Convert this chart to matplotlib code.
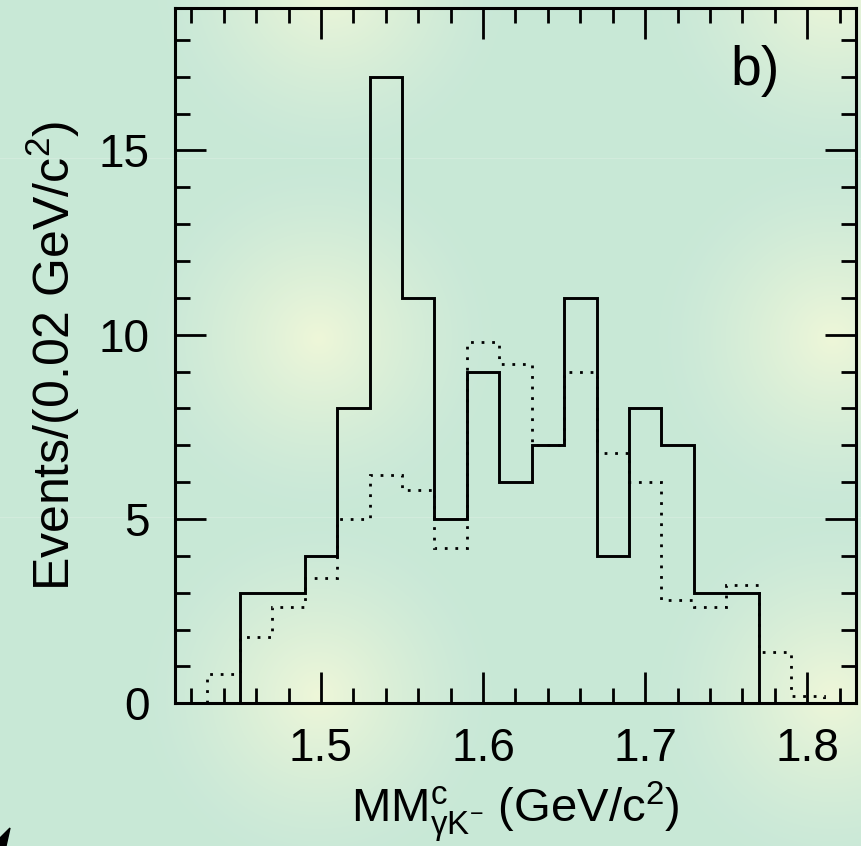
# Import Libraries
import numpy as np
import matplotlib
matplotlib.use('Agg')
import matplotlib.pyplot as plt
from matplotlib.ticker import MultipleLocator
from matplotlib.patches import Polygon

# Data: histogram bins of 0.02 GeV/c^2
bin_width = 0.02
solid_start = 1.45
solid_counts = [3, 3, 4, 8, 17, 11, 5, 9, 6, 7, 11, 4, 8, 7, 3, 3]
dotted_start = 1.43
dotted_counts = [0.8, 1.8, 2.6, 3.4, 5.0, 6.2, 5.8, 4.2, 9.8, 9.2,
                 7.0, 9.0, 6.8, 6.0, 2.8, 2.6, 3.2, 1.4, 0.2]

x_ticks = [1.5, 1.6, 1.7, 1.8]
y_ticks = [0, 5, 10, 15]

plt.rcParams['font.family'] = ['Liberation Sans', 'DejaVu Sans']
plt.rcParams['mathtext.fontset'] = 'custom'
plt.rcParams['mathtext.rm'] = 'Liberation Sans'
plt.rcParams['mathtext.it'] = 'Liberation Sans'
plt.rcParams['mathtext.bf'] = 'Liberation Sans:bold'

W, H = 861, 846
fig = plt.figure(figsize=(W / 100, H / 100), dpi=100)

# Background: mint green with soft yellow glows
yy, xx = np.mgrid[0:H, 0:W]
base = np.array([0.788, 0.910, 0.843])
glow = np.array([0.935, 0.968, 0.850])
weight = np.zeros((H, W))
for cx, cy in [(318, 338), (832, 338), (318, 695), (832, 695), (330, -15), (832, -15)]:
    r = np.hypot(xx - cx, yy - cy)
    weight = np.maximum(weight, np.clip(1 - r / 175, 0, 1) ** 1.4)
img = base + weight[..., None] * (glow - base)
for ly in [158, 517]:
    img[ly] = img[ly] * 0.5 + 0.5 * np.array([0.86, 0.94, 0.89])
bg = fig.add_axes([0, 0, 1, 1], zorder=-1)
bg.imshow(img, extent=[0, W, H, 0], aspect='auto', interpolation='bilinear')
bg.set_xlim(0, W)
bg.set_ylim(H, 0)
bg.axis('off')
bg.add_patch(Polygon([[0, 846], [0, 838], [10, 828], [6, 846]], closed=True, color='black'))

# Main axes
ax = fig.add_axes([175 / W, 1 - 703.3 / H, (856 - 175) / W, (703.3 - 8.5) / H])
ax.set_facecolor('none')

solid_edges = solid_start + bin_width * np.arange(len(solid_counts) + 1)
dotted_edges = dotted_start + bin_width * np.arange(len(dotted_counts) + 1)
ax.stairs(solid_counts, solid_edges, color='black', linewidth=2.1)
ax.stairs(dotted_counts, dotted_edges, color='black', linewidth=2.0,
          linestyle=(0, (1.0, 2.8)))

ax.set_xlim(1.41, 1.83)
ax.set_ylim(0, 18.85)

ax.set_xticks(x_ticks)
ax.set_xticklabels([f'{t:.1f}' for t in x_ticks])
ax.set_yticks(y_ticks)
ax.xaxis.set_minor_locator(MultipleLocator(0.02))
ax.yaxis.set_minor_locator(MultipleLocator(1))

ax.tick_params(which='both', direction='in', top=True, right=True, width=2, colors='black')
ax.tick_params(which='major', length=22, labelsize=33)
ax.tick_params(which='minor', length=11)
ax.tick_params(axis='x', which='major', pad=17)
ax.tick_params(axis='y', which='major', pad=18)
for s in ax.spines.values():
    s.set_linewidth(2.2)

# Axis Labels
ax.set_xlabel(r'MM$^{\mathrm{c}}_{\mathrm{\gamma K}^{-}}$ (GeV/c$^{2}$)', fontsize=34, labelpad=6)
ax.set_ylabel(r'Events/(0.02 GeV/c$^{2}$)', fontsize=36, labelpad=12)

ax.text(0.888, 0.89, 'b)', transform=ax.transAxes, fontsize=40,
        ha='right', va='baseline')

fig.savefig('out.png', dpi=100)
